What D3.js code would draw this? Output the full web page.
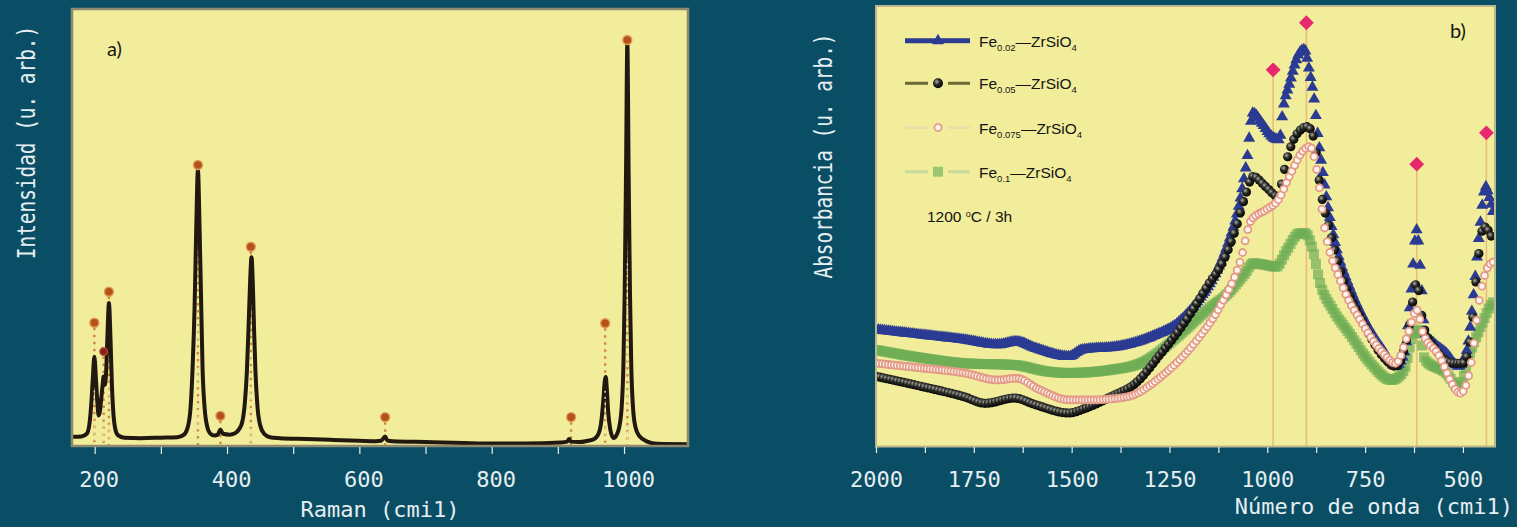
<!DOCTYPE html>
<html>
<head>
<meta charset="utf-8">
<script src="https://cdn.jsdelivr.net/npm/d3@7"></script>
<style>
  html, body { margin: 0; padding: 0; background: #0a4e66; }
  svg { display: block; }
</style>
</head>
<body>
<svg id="chart" width="1517" height="527"></svg>
<script>
// ---- panel a) Raman spectrum, [shift cm-1, intensity u.a.]
const ramanSpectrum = [
  [166, 2.1], [180, 2.2], [188, 2.8], [192, 5], [195, 10], [197, 15], [199.5, 20.4], [202, 15],
  [204, 10], [206, 7], [208, 8], [210, 11], [212, 14], [213.5, 15.9], [215, 14], [217, 16],
  [219, 24], [221.5, 32.7], [224, 24], [226, 14], [228, 8], [231, 4], [235, 2.5], [245, 1.9],
  [270, 1.8], [300, 1.9], [325, 2.0], [335, 2.6], [341, 4.5], [345, 9], [348, 18], [351, 32],
  [353.5, 50], [356, 63.2], [358.5, 50], [361, 32], [363, 18], [366, 9], [370, 4.5], [375, 2.8],
  [381, 2.4], [386, 2.6], [390, 3.7], [394, 2.8], [404, 2.6], [412, 2.9], [418, 3.8], [423, 5.5],
  [427, 10], [430, 17], [432.5, 27], [435, 38], [437, 43.2], [439, 37], [441, 26], [443, 17],
  [446, 9], [450, 4.8], [456, 2.8], [465, 2.0], [480, 1.8], [520, 1.6], [560, 1.4], [600, 1.2],
  [625, 1.1], [633, 1.2], [637, 1.9], [639, 2.2], [642, 1.3], [650, 1.1], [700, 0.9], [780, 0.6],
  [850, 0.6], [905, 0.8], [914, 1.0], [917, 1.6], [920, 1.0], [932, 0.9], [945, 1.2], [955, 1.6],
  [962, 3], [966, 6], [969, 11], [971, 15], [972.5, 15.8], [974, 13], [976, 8], [979, 4],
  [984, 1.8], [989, 2.6], [993, 4.5], [996.5, 9], [999, 18], [1001, 35], [1003, 62], [1005, 92.2],
  [1007, 62], [1009, 35], [1011, 18], [1013.5, 9], [1017, 4.5], [1023, 2.3], [1035, 1.0],
  [1050, 0.5], [1097, 0.4]
]
const ramanMarkerShift = [199.5, 213.5, 221.5, 356, 390, 436, 639, 920, 971.5, 1005]
const ramanMarkerLevel = [28.2, 21.6, 35.3, 64.3, 6.9, 45.6, 6.6, 6.6, 28.1, 92.9]
const ramanTicks = [200, 300, 400, 500, 600, 700, 800, 900, 1000]

// ---- panel b) absorbance spectra, [wavenumber cm-1, absorbance u.a.]
const fe002 = [
  [1999, 26.5], [1882, 25.3], [1775, 24.2], [1689, 23.1], [1641, 23.8], [1593, 22.3], [1507, 20.4],
  [1475, 21.9], [1378, 22.7], [1293, 25.0], [1229, 28.0], [1175, 33.3], [1132, 39.3], [1100, 46.2],
  [1073, 54.5], [1052, 65.1], [1037, 75.7], [1014, 73.4], [988, 70.3], [969, 69.6], [960, 76.4],
  [943, 82.5], [918, 89.3], [905, 90.1], [892, 85.1], [880, 78.7], [870, 70.0], [860, 63.5],
  [848, 56.0], [822, 44.6], [790, 36.3], [747, 28.0], [704, 21.9], [672, 18.2], [650, 21.2],
  [634, 33.3], [618, 49.2], [608, 39.3], [597, 25.7], [575, 23.5], [543, 21.2], [511, 18.2],
  [490, 21.9], [474, 33.3], [458, 48.4], [442, 59.0], [431, 56.0], [420, 52]
]
const fe005 = [
  [1999, 15.9], [1882, 13.6], [1775, 11.3], [1721, 9.8], [1646, 11.0], [1593, 9.5], [1507, 7.6],
  [1464, 8.7], [1400, 11.3], [1336, 14.4], [1271, 21.2], [1207, 28.7], [1154, 36.3], [1111, 42.4],
  [1079, 49.9], [1057, 56.7], [1036, 61.3], [1004, 59.0], [972, 56.7], [960, 61.3], [950, 65.1],
  [923, 71.1], [897, 72.6], [880, 69.6], [865, 59.0], [843, 49.9], [811, 39.3], [758, 28.7],
  [704, 20.4], [672, 18.2], [640, 25.7], [618, 37.1], [602, 28.0], [575, 22.7], [522, 18.9],
  [500, 18.9], [479, 25.7], [463, 40.8], [447, 49.9], [431, 48.4], [420, 46]
]
const fe0075 = [
  [1999, 18.9], [1882, 17.8], [1775, 16.7], [1689, 15.1], [1641, 15.5], [1582, 12.9], [1507, 10.6],
  [1443, 10.6], [1357, 11.3], [1271, 15.9], [1186, 23.5], [1121, 31.8], [1068, 42.4], [1041, 51.4],
  [1004, 53.7], [972, 56.0], [940, 62.0], [907, 67.3], [891, 68.1], [875, 63.5], [854, 49.9],
  [811, 37.1], [758, 28.0], [704, 21.2], [672, 18.9], [640, 25.7], [618, 31.0], [602, 25.7],
  [565, 21.2], [506, 12.1], [479, 18.9], [458, 33.3], [436, 40.8], [420, 42]
]
const fe01 = [
  [1999, 21.9], [1882, 20.1], [1775, 18.9], [1646, 18.5], [1560, 17.0], [1507, 16.7], [1400, 17.4],
  [1314, 19.3], [1229, 25.0], [1154, 31.0], [1100, 34.8], [1057, 39.3], [1036, 41.6], [1004, 41.2],
  [977, 40.8], [950, 44.6], [918, 48.4], [902, 48.4], [886, 45.4], [865, 37.1], [832, 31.0],
  [790, 25.7], [736, 18.9], [683, 15.1], [650, 17.4], [629, 25.0], [613, 26.5], [597, 19.7],
  [543, 16.7], [511, 13.6], [479, 21.9], [447, 28.7], [431, 31.8], [420, 33]
]
const bandWn = [985, 900, 618, 440]
const bandLevel = [85.5, 96.2, 64.1, 71.2]
const absTicks = [2000, 1875, 1750, 1625, 1500, 1375, 1250, 1125, 1000, 875, 750, 625, 500]
const legendSub = ['0.02', '0.05', '0.075', '0.1']

const BG = '#0a4e66'
const PLOT_BG = '#f1ed9b'
const AXIS_TEXT = '#e6eef1'
const MONO = '"DejaVu Sans Mono", monospace'
const SANS = '"Liberation Sans", Arial, sans-serif'

const svg = d3.select('#chart')
svg.append('rect').attr('width', 1517).attr('height', 527).attr('fill', BG)

const defs = svg.append('defs')
const ball = defs.append('radialGradient').attr('id', 'ball')
  .attr('cx', '38%').attr('cy', '35%').attr('r', '65%')
ball.append('stop').attr('offset', '0%').attr('stop-color', '#b0b0a8')
ball.append('stop').attr('offset', '45%').attr('stop-color', '#2a2a26')
ball.append('stop').attr('offset', '100%').attr('stop-color', '#050505')

// sample points along a drawn path at a fixed horizontal step (marker texture)
function sampleByX(pathNode, stepX) {
  const total = pathNode.getTotalLength()
  const pts = []
  let nextX = -Infinity
  for (let s = 0; s <= total; s += 0.5) {
    const p = pathNode.getPointAtLength(s)
    if (p.x >= nextX) {
      pts.push([p.x, p.y])
      nextX = p.x + stepX
    }
  }
  return pts
}

// vertical axis title, taller glyphs than wide like the scanned figure
function yTitle(x, y, label) {
  svg.append('text')
    .attr('transform', `translate(${x},${y}) rotate(-90) scale(1,1.25)`)
    .attr('text-anchor', 'middle')
    .attr('dominant-baseline', 'central')
    .attr('fill', AXIS_TEXT)
    .style('font-family', MONO).style('font-size', '19.4px')
    .text(label)
}

// ================= panel a =================
const A = { x0: 72, x1: 688, y0: 9, y1: 446 }
const xRaman = d3.scaleLinear().domain([165.7, 1096.7]).range([A.x0, A.x1])
const yInt = d3.scaleLinear().domain([0, 100]).range([A.y1, A.y0])

defs.append('clipPath').attr('id', 'clipA').append('rect')
  .attr('x', A.x0).attr('y', A.y0).attr('width', A.x1 - A.x0).attr('height', A.y1 - A.y0)

svg.append('rect')
  .attr('x', A.x0).attr('y', A.y0).attr('width', A.x1 - A.x0).attr('height', A.y1 - A.y0)
  .attr('fill', PLOT_BG)

const gA = svg.append('g').attr('clip-path', 'url(#clipA)')

// dotted drop lines under the spectrum
gA.selectAll('line.drop')
  .data(ramanMarkerShift)
  .join('line')
  .attr('class', 'drop')
  .attr('x1', d => xRaman(d)).attr('x2', d => xRaman(d))
  .attr('y1', (d, i) => yInt(ramanMarkerLevel[i]) + 5)
  .attr('y2', A.y1)
  .attr('stroke', '#d08a3c')
  .attr('stroke-width', 2.4)
  .attr('stroke-dasharray', '2.5,4.5')

const ramanLine = d3.line()
  .x(d => xRaman(d[0]))
  .y(d => yInt(d[1]))
  .curve(d3.curveMonotoneX)

gA.append('path')
  .datum(ramanSpectrum)
  .attr('d', ramanLine)
  .attr('fill', 'none')
  .attr('stroke', '#21180f')
  .attr('stroke-width', 4)
  .attr('stroke-linejoin', 'round')

// light dashes showing through the lower part of the big peaks
gA.selectAll('line.inner')
  .data(ramanMarkerShift.filter((d, i) => ramanMarkerLevel[i] > 20))
  .join('line')
  .attr('class', 'inner')
  .attr('x1', d => xRaman(d)).attr('x2', d => xRaman(d))
  .attr('y1', d => yInt(ramanMarkerLevel[ramanMarkerShift.indexOf(d)] * 0.45))
  .attr('y2', A.y1)
  .attr('stroke', '#efe0b4')
  .attr('stroke-width', 1.4)
  .attr('stroke-dasharray', '2,4')

gA.selectAll('circle.mark')
  .data(ramanMarkerShift)
  .join('circle')
  .attr('class', 'mark')
  .attr('cx', d => xRaman(d))
  .attr('cy', (d, i) => yInt(ramanMarkerLevel[i]))
  .attr('r', (d, i) => i === 1 ? 3.8 : 4.5)
  .attr('fill', (d, i) => i === 1 ? '#8a2016' : '#b5521c')
  .attr('stroke', (d, i) => i === 1 ? '#b0503a' : '#e09a55')
  .attr('stroke-width', 1.4)

svg.append('rect')
  .attr('x', A.x0).attr('y', A.y0).attr('width', A.x1 - A.x0).attr('height', A.y1 - A.y0)
  .attr('fill', 'none').attr('stroke', '#8e8a72').attr('stroke-width', 2.5)

const axisA = svg.append('g')
  .attr('transform', `translate(0,${A.y1 + 1})`)
  .call(d3.axisBottom(xRaman).tickValues(ramanTicks).tickSize(7)
    .tickFormat(d => d % 200 === 0 ? d : ''))
axisA.select('.domain').remove()
axisA.selectAll('line').attr('stroke', AXIS_TEXT).attr('stroke-width', 1.2)
axisA.selectAll('text')
  .attr('y', 40).attr('dy', 0).attr('dx', 4)
  .attr('fill', AXIS_TEXT)
  .style('font-family', MONO).style('font-size', '22px')

svg.append('text')
  .attr('x', 380).attr('y', 517)
  .attr('text-anchor', 'middle')
  .attr('fill', AXIS_TEXT)
  .style('font-family', MONO).style('font-size', '22px')
  .text('Raman (cmi1)')

yTitle(27, 142.5, 'Intensidad (u. arb.)')

svg.append('text')
  .attr('x', 107).attr('y', 56)
  .attr('fill', '#161616')
  .style('font-family', 'Lato, "DejaVu Sans", sans-serif')
  .style('font-size', '20px')
  .text('a)')

// ================= panel b =================
const B = { x0: 876, x1: 1495, y0: 6, y1: 446.5 }
const xWn = d3.scaleLinear().domain([2000, 418]).range([B.x0, B.x1])
const yAbs = d3.scaleLinear().domain([0, 100]).range([B.y1, B.y0])

defs.append('clipPath').attr('id', 'clipB').append('rect')
  .attr('x', B.x0).attr('y', B.y0).attr('width', B.x1 - B.x0).attr('height', B.y1 - B.y0)

svg.append('rect')
  .attr('x', B.x0).attr('y', B.y0).attr('width', B.x1 - B.x0).attr('height', B.y1 - B.y0)
  .attr('fill', PLOT_BG)

const gB = svg.append('g').attr('clip-path', 'url(#clipB)')

gB.selectAll('line.band')
  .data(bandWn)
  .join('line')
  .attr('class', 'band')
  .attr('x1', d => xWn(d)).attr('x2', d => xWn(d))
  .attr('y1', (d, i) => yAbs(bandLevel[i]))
  .attr('y2', B.y1)
  .attr('stroke', '#e6bf7c')
  .attr('stroke-width', 1.6)

const absLine = d3.line()
  .x(d => xWn(d[0]))
  .y(d => yAbs(d[1]))
  .curve(d3.curveMonotoneX)

const triangle = d3.symbol(d3.symbolTriangle, 62)()
const series = [
  { data: fe01, step: 2.0, draw: (g, pts) => g.selectAll('rect').data(pts).join('rect')
      .attr('x', d => d[0] - 5).attr('y', d => d[1] - 5).attr('width', 10).attr('height', 10)
      .attr('fill', '#6fae55').attr('fill-opacity', 0.7) },
  { data: fe002, step: 1.7, draw: (g, pts) => g.selectAll('path').data(pts).join('path')
      .attr('d', triangle).attr('transform', d => `translate(${d[0]},${d[1]})`)
      .attr('fill', '#2b3b93') },
  { data: fe005, step: 3.0, draw: (g, pts) => g.selectAll('circle').data(pts).join('circle')
      .attr('cx', d => d[0]).attr('cy', d => d[1]).attr('r', 4.6)
      .attr('fill', 'url(#ball)') },
  { data: fe0075, step: 2.6, draw: (g, pts) => g.selectAll('circle').data(pts).join('circle')
      .attr('cx', d => d[0]).attr('cy', d => d[1]).attr('r', 3.5)
      .attr('fill', '#fff7ee').attr('stroke', '#e39a88').attr('stroke-width', 1.8) }
]

series.forEach(s => {
  const guide = gB.append('path').datum(s.data).attr('d', absLine)
    .attr('fill', 'none').attr('stroke', 'none')
  const pts = sampleByX(guide.node(), s.step)
  s.draw(gB.append('g'), pts)
})

gB.selectAll('path.diamond')
  .data(bandWn)
  .join('path')
  .attr('class', 'diamond')
  .attr('d', d3.symbol(d3.symbolSquare, 110)())
  .attr('transform', (d, i) => `translate(${xWn(d)},${yAbs(bandLevel[i])}) rotate(45)`)
  .attr('fill', '#e8286e')

svg.append('rect')
  .attr('x', B.x0).attr('y', B.y0).attr('width', B.x1 - B.x0).attr('height', B.y1 - B.y0)
  .attr('fill', 'none').attr('stroke', '#bdb78f').attr('stroke-width', 2)

// legend
const legendY = [40.7, 83.3, 127.5, 171.7]
const legendStyle = [
  { line: '#2e3d92', width: 5, gap: 0 },
  { line: '#6c6b36', width: 3, gap: 10 },
  { line: '#ebdea6', width: 3, gap: 10 },
  { line: '#c9da9c', width: 3, gap: 10 }
]
const lg = svg.append('g')
legendSub.forEach((sub, i) => {
  const y = legendY[i]
  const st = legendStyle[i]
  lg.append('line').attr('x1', 905).attr('x2', 938 - st.gap).attr('y1', y).attr('y2', y)
    .attr('stroke', st.line).attr('stroke-width', st.width)
  lg.append('line').attr('x1', 938 + st.gap).attr('x2', 970).attr('y1', y).attr('y2', y)
    .attr('stroke', st.line).attr('stroke-width', st.width)
  if (i === 0) {
    lg.append('path').attr('d', triangle).attr('transform', `translate(938,${y})`).attr('fill', '#2b3b93')
  } else if (i === 1) {
    lg.append('circle').attr('cx', 938).attr('cy', y).attr('r', 5).attr('fill', 'url(#ball)')
  } else if (i === 2) {
    lg.append('circle').attr('cx', 938).attr('cy', y).attr('r', 3.6)
      .attr('fill', '#fff7ee').attr('stroke', '#e3a58e').attr('stroke-width', 2)
  } else {
    lg.append('rect').attr('x', 933).attr('y', y - 5).attr('width', 10).attr('height', 10)
      .attr('fill', '#7fb862').attr('fill-opacity', 0.75)
  }
  const t = lg.append('text').attr('x', 979).attr('y', y + 6)
    .attr('fill', '#141414').style('font-family', SANS).style('font-size', '15.5px')
  t.append('tspan').text('Fe')
  t.append('tspan').attr('dy', 4).style('font-size', '9.5px').text(sub)
  t.append('tspan').attr('dy', -4).text('\u2014ZrSiO')
  t.append('tspan').attr('dy', 4).style('font-size', '9.5px').text('4')
})

const cond = svg.append('text').attr('x', 927).attr('y', 221.5)
  .attr('fill', '#141414').style('font-family', SANS).style('font-size', '15.5px')
cond.append('tspan').text('1200 ')
cond.append('tspan').attr('dy', -5).style('font-size', '9px').text('o')
cond.append('tspan').attr('dy', 5).text('C / 3h')

svg.append('text')
  .attr('x', 1450).attr('y', 38)
  .attr('fill', '#161616')
  .style('font-family', 'Lato, "DejaVu Sans", sans-serif')
  .style('font-size', '20px')
  .text('b)')

const axisB = svg.append('g')
  .attr('transform', `translate(0,${B.y1 + 0.5})`)
  .call(d3.axisBottom(xWn).tickValues(absTicks).tickSize(6)
    .tickFormat(d => d % 250 === 0 ? d : ''))
axisB.select('.domain').remove()
axisB.selectAll('line').attr('stroke', AXIS_TEXT).attr('stroke-width', 1.2)
axisB.selectAll('text')
  .attr('y', 40).attr('dy', 0)
  .attr('fill', AXIS_TEXT)
  .style('font-family', MONO).style('font-size', '22px')

svg.append('text')
  .attr('x', 1513).attr('y', 514)
  .attr('text-anchor', 'end')
  .attr('fill', AXIS_TEXT)
  .style('font-family', MONO).style('font-size', '22px')
  .text('Número de onda (cmi1)')

yTitle(823.5, 156, 'Absorbancia (u. arb.)')
</script>
</body>
</html>
